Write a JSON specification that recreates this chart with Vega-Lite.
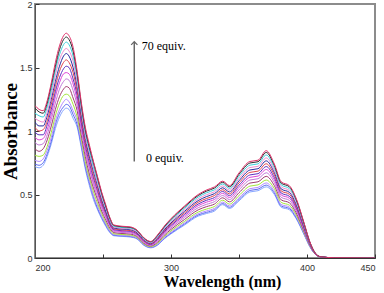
{
"$schema": "https://vega.github.io/schema/vega-lite/v6.json",
"width": 340, "height": 254,
"autosize": {"type": "none"},
"padding": {"left": 35, "top": 4, "right": 9, "bottom": 35},
"config": {"view": {"stroke": "#8c8c8c", "strokeWidth": 2}, "font": "Liberation Sans"},
"datasets": {"spec": [
{"w":200,"k":0,"a":0.72},{"w":203,"k":0,"a":0.71},{"w":206,"k":0,"a":0.73},{"w":209,"k":0,"a":0.80},{"w":212,"k":0,"a":0.90},{"w":215,"k":0,"a":1.02},{"w":218,"k":0,"a":1.11},{"w":221,"k":0,"a":1.165},{"w":223,"k":0,"a":1.18},{"w":225,"k":0,"a":1.17},{"w":228,"k":0,"a":1.10},{"w":231,"k":0,"a":1.03},{"w":234,"k":0,"a":0.87},{"w":237,"k":0,"a":0.70},{"w":240,"k":0,"a":0.57},{"w":243,"k":0,"a":0.46},{"w":246,"k":0,"a":0.38},{"w":249,"k":0,"a":0.31},{"w":252,"k":0,"a":0.25},{"w":255,"k":0,"a":0.20},{"w":258,"k":0,"a":0.175},{"w":264,"k":0,"a":0.17},{"w":270,"k":0,"a":0.165},{"w":275,"k":0,"a":0.15},{"w":280,"k":0,"a":0.10},{"w":285,"k":0,"a":0.08},{"w":290,"k":0,"a":0.10},{"w":295,"k":0,"a":0.15},{"w":300,"k":0,"a":0.19},{"w":310,"k":0,"a":0.26},{"w":320,"k":0,"a":0.33},{"w":326,"k":0,"a":0.35},{"w":332,"k":0,"a":0.37},{"w":338,"k":0,"a":0.42},{"w":343,"k":0,"a":0.39},{"w":350,"k":0,"a":0.45},{"w":358,"k":0,"a":0.52},{"w":364,"k":0,"a":0.53},{"w":370,"k":0,"a":0.56},{"w":376,"k":0,"a":0.50},{"w":381,"k":0,"a":0.40},{"w":387,"k":0,"a":0.38},{"w":392,"k":0,"a":0.31},{"w":398,"k":0,"a":0.18},{"w":402,"k":0,"a":0.09},{"w":406,"k":0,"a":0.03},{"w":410,"k":0,"a":0.008},{"w":420,"k":0,"a":0.001},{"w":450,"k":0,"a":0},
{"w":200,"k":1,"a":0.74},{"w":203,"k":1,"a":0.73},{"w":206,"k":1,"a":0.75},{"w":209,"k":1,"a":0.82},{"w":212,"k":1,"a":0.92},{"w":215,"k":1,"a":1.05},{"w":218,"k":1,"a":1.14},{"w":221,"k":1,"a":1.19},{"w":223,"k":1,"a":1.21},{"w":225,"k":1,"a":1.20},{"w":228,"k":1,"a":1.13},{"w":231,"k":1,"a":1.05},{"w":234,"k":1,"a":0.89},{"w":237,"k":1,"a":0.72},{"w":240,"k":1,"a":0.59},{"w":243,"k":1,"a":0.48},{"w":246,"k":1,"a":0.39},{"w":249,"k":1,"a":0.32},{"w":252,"k":1,"a":0.26},{"w":255,"k":1,"a":0.206},{"w":258,"k":1,"a":0.179},{"w":264,"k":1,"a":0.174},{"w":270,"k":1,"a":0.169},{"w":275,"k":1,"a":0.154},{"w":280,"k":1,"a":0.103},{"w":285,"k":1,"a":0.083},{"w":290,"k":1,"a":0.104},{"w":295,"k":1,"a":0.155},{"w":300,"k":1,"a":0.196},{"w":310,"k":1,"a":0.268},{"w":320,"k":1,"a":0.339},{"w":326,"k":1,"a":0.359},{"w":332,"k":1,"a":0.380},{"w":338,"k":1,"a":0.429},{"w":343,"k":1,"a":0.399},{"w":350,"k":1,"a":0.461},{"w":358,"k":1,"a":0.532},{"w":364,"k":1,"a":0.542},{"w":370,"k":1,"a":0.574},{"w":376,"k":1,"a":0.512},{"w":381,"k":1,"a":0.41},{"w":387,"k":1,"a":0.390},{"w":392,"k":1,"a":0.318},{"w":398,"k":1,"a":0.185},{"w":402,"k":1,"a":0.092},{"w":406,"k":1,"a":0.03},{"w":410,"k":1,"a":0.008},{"w":420,"k":1,"a":0.001},{"w":450,"k":1,"a":0},
{"w":200,"k":2,"a":0.77},{"w":203,"k":2,"a":0.76},{"w":206,"k":2,"a":0.78},{"w":209,"k":2,"a":0.85},{"w":212,"k":2,"a":0.95},{"w":215,"k":2,"a":1.08},{"w":218,"k":2,"a":1.17},{"w":221,"k":2,"a":1.23},{"w":223,"k":2,"a":1.25},{"w":225,"k":2,"a":1.23},{"w":228,"k":2,"a":1.16},{"w":231,"k":2,"a":1.08},{"w":234,"k":2,"a":0.91},{"w":237,"k":2,"a":0.74},{"w":240,"k":2,"a":0.61},{"w":243,"k":2,"a":0.49},{"w":246,"k":2,"a":0.41},{"w":249,"k":2,"a":0.33},{"w":252,"k":2,"a":0.27},{"w":255,"k":2,"a":0.213},{"w":258,"k":2,"a":0.184},{"w":264,"k":2,"a":0.179},{"w":270,"k":2,"a":0.174},{"w":275,"k":2,"a":0.158},{"w":280,"k":2,"a":0.107},{"w":285,"k":2,"a":0.086},{"w":290,"k":2,"a":0.109},{"w":295,"k":2,"a":0.161},{"w":300,"k":2,"a":0.203},{"w":310,"k":2,"a":0.277},{"w":320,"k":2,"a":0.349},{"w":326,"k":2,"a":0.370},{"w":332,"k":2,"a":0.391},{"w":338,"k":2,"a":0.440},{"w":343,"k":2,"a":0.410},{"w":350,"k":2,"a":0.474},{"w":358,"k":2,"a":0.546},{"w":364,"k":2,"a":0.556},{"w":370,"k":2,"a":0.591},{"w":376,"k":2,"a":0.526},{"w":381,"k":2,"a":0.422},{"w":387,"k":2,"a":0.401},{"w":392,"k":2,"a":0.328},{"w":398,"k":2,"a":0.19},{"w":402,"k":2,"a":0.094},{"w":406,"k":2,"a":0.031},{"w":410,"k":2,"a":0.008},{"w":420,"k":2,"a":0.001},{"w":450,"k":2,"a":0},
{"w":200,"k":3,"a":0.81},{"w":203,"k":3,"a":0.80},{"w":206,"k":3,"a":0.81},{"w":209,"k":3,"a":0.88},{"w":212,"k":3,"a":0.99},{"w":215,"k":3,"a":1.12},{"w":218,"k":3,"a":1.22},{"w":221,"k":3,"a":1.28},{"w":223,"k":3,"a":1.29},{"w":225,"k":3,"a":1.28},{"w":228,"k":3,"a":1.21},{"w":231,"k":3,"a":1.11},{"w":234,"k":3,"a":0.94},{"w":237,"k":3,"a":0.76},{"w":240,"k":3,"a":0.63},{"w":243,"k":3,"a":0.52},{"w":246,"k":3,"a":0.43},{"w":249,"k":3,"a":0.35},{"w":252,"k":3,"a":0.28},{"w":255,"k":3,"a":0.223},{"w":258,"k":3,"a":0.191},{"w":264,"k":3,"a":0.185},{"w":270,"k":3,"a":0.180},{"w":275,"k":3,"a":0.163},{"w":280,"k":3,"a":0.111},{"w":285,"k":3,"a":0.090},{"w":290,"k":3,"a":0.115},{"w":295,"k":3,"a":0.169},{"w":300,"k":3,"a":0.213},{"w":310,"k":3,"a":0.289},{"w":320,"k":3,"a":0.362},{"w":326,"k":3,"a":0.385},{"w":332,"k":3,"a":0.406},{"w":338,"k":3,"a":0.455},{"w":343,"k":3,"a":0.424},{"w":350,"k":3,"a":0.492},{"w":358,"k":3,"a":0.566},{"w":364,"k":3,"a":0.576},{"w":370,"k":3,"a":0.614},{"w":376,"k":3,"a":0.546},{"w":381,"k":3,"a":0.438},{"w":387,"k":3,"a":0.416},{"w":392,"k":3,"a":0.340},{"w":398,"k":3,"a":0.197},{"w":402,"k":3,"a":0.098},{"w":406,"k":3,"a":0.032},{"w":410,"k":3,"a":0.008},{"w":420,"k":3,"a":0.001},{"w":450,"k":3,"a":0},
{"w":200,"k":4,"a":0.86},{"w":203,"k":4,"a":0.84},{"w":206,"k":4,"a":0.86},{"w":209,"k":4,"a":0.93},{"w":212,"k":4,"a":1.04},{"w":215,"k":4,"a":1.17},{"w":218,"k":4,"a":1.27},{"w":221,"k":4,"a":1.33},{"w":223,"k":4,"a":1.35},{"w":225,"k":4,"a":1.34},{"w":228,"k":4,"a":1.26},{"w":231,"k":4,"a":1.16},{"w":234,"k":4,"a":0.97},{"w":237,"k":4,"a":0.80},{"w":240,"k":4,"a":0.66},{"w":243,"k":4,"a":0.55},{"w":246,"k":4,"a":0.46},{"w":249,"k":4,"a":0.37},{"w":252,"k":4,"a":0.30},{"w":255,"k":4,"a":0.235},{"w":258,"k":4,"a":0.200},{"w":264,"k":4,"a":0.193},{"w":270,"k":4,"a":0.188},{"w":275,"k":4,"a":0.170},{"w":280,"k":4,"a":0.117},{"w":285,"k":4,"a":0.095},{"w":290,"k":4,"a":0.123},{"w":295,"k":4,"a":0.179},{"w":300,"k":4,"a":0.225},{"w":310,"k":4,"a":0.304},{"w":320,"k":4,"a":0.379},{"w":326,"k":4,"a":0.404},{"w":332,"k":4,"a":0.425},{"w":338,"k":4,"a":0.474},{"w":343,"k":4,"a":0.442},{"w":350,"k":4,"a":0.514},{"w":358,"k":4,"a":0.590},{"w":364,"k":4,"a":0.600},{"w":370,"k":4,"a":0.643},{"w":376,"k":4,"a":0.570},{"w":381,"k":4,"a":0.458},{"w":387,"k":4,"a":0.435},{"w":392,"k":4,"a":0.356},{"w":398,"k":4,"a":0.206},{"w":402,"k":4,"a":0.102},{"w":406,"k":4,"a":0.033},{"w":410,"k":4,"a":0.009},{"w":420,"k":4,"a":0.001},{"w":450,"k":4,"a":0},
{"w":200,"k":5,"a":0.91},{"w":203,"k":5,"a":0.89},{"w":206,"k":5,"a":0.90},{"w":209,"k":5,"a":0.97},{"w":212,"k":5,"a":1.09},{"w":215,"k":5,"a":1.22},{"w":218,"k":5,"a":1.33},{"w":221,"k":5,"a":1.39},{"w":223,"k":5,"a":1.41},{"w":225,"k":5,"a":1.40},{"w":228,"k":5,"a":1.32},{"w":231,"k":5,"a":1.20},{"w":234,"k":5,"a":1.01},{"w":237,"k":5,"a":0.83},{"w":240,"k":5,"a":0.70},{"w":243,"k":5,"a":0.58},{"w":246,"k":5,"a":0.48},{"w":249,"k":5,"a":0.39},{"w":252,"k":5,"a":0.32},{"w":255,"k":5,"a":0.247},{"w":258,"k":5,"a":0.208},{"w":264,"k":5,"a":0.201},{"w":270,"k":5,"a":0.196},{"w":275,"k":5,"a":0.177},{"w":280,"k":5,"a":0.123},{"w":285,"k":5,"a":0.100},{"w":290,"k":5,"a":0.131},{"w":295,"k":5,"a":0.189},{"w":300,"k":5,"a":0.237},{"w":310,"k":5,"a":0.319},{"w":320,"k":5,"a":0.396},{"w":326,"k":5,"a":0.422},{"w":332,"k":5,"a":0.444},{"w":338,"k":5,"a":0.492},{"w":343,"k":5,"a":0.460},{"w":350,"k":5,"a":0.536},{"w":358,"k":5,"a":0.614},{"w":364,"k":5,"a":0.624},{"w":370,"k":5,"a":0.671},{"w":376,"k":5,"a":0.594},{"w":381,"k":5,"a":0.478},{"w":387,"k":5,"a":0.454},{"w":392,"k":5,"a":0.372},{"w":398,"k":5,"a":0.215},{"w":402,"k":5,"a":0.106},{"w":406,"k":5,"a":0.034},{"w":410,"k":5,"a":0.009},{"w":420,"k":5,"a":0.001},{"w":450,"k":5,"a":0},
{"w":200,"k":6,"a":0.95},{"w":203,"k":6,"a":0.93},{"w":206,"k":6,"a":0.94},{"w":209,"k":6,"a":1.01},{"w":212,"k":6,"a":1.13},{"w":215,"k":6,"a":1.27},{"w":218,"k":6,"a":1.38},{"w":221,"k":6,"a":1.45},{"w":223,"k":6,"a":1.46},{"w":225,"k":6,"a":1.45},{"w":228,"k":6,"a":1.37},{"w":231,"k":6,"a":1.24},{"w":234,"k":6,"a":1.04},{"w":237,"k":6,"a":0.86},{"w":240,"k":6,"a":0.72},{"w":243,"k":6,"a":0.60},{"w":246,"k":6,"a":0.51},{"w":249,"k":6,"a":0.41},{"w":252,"k":6,"a":0.33},{"w":255,"k":6,"a":0.258},{"w":258,"k":6,"a":0.216},{"w":264,"k":6,"a":0.208},{"w":270,"k":6,"a":0.203},{"w":275,"k":6,"a":0.184},{"w":280,"k":6,"a":0.129},{"w":285,"k":6,"a":0.104},{"w":290,"k":6,"a":0.138},{"w":295,"k":6,"a":0.198},{"w":300,"k":6,"a":0.248},{"w":310,"k":6,"a":0.332},{"w":320,"k":6,"a":0.412},{"w":326,"k":6,"a":0.439},{"w":332,"k":6,"a":0.461},{"w":338,"k":6,"a":0.509},{"w":343,"k":6,"a":0.476},{"w":350,"k":6,"a":0.556},{"w":358,"k":6,"a":0.635},{"w":364,"k":6,"a":0.645},{"w":370,"k":6,"a":0.697},{"w":376,"k":6,"a":0.615},{"w":381,"k":6,"a":0.496},{"w":387,"k":6,"a":0.471},{"w":392,"k":6,"a":0.387},{"w":398,"k":6,"a":0.223},{"w":402,"k":6,"a":0.109},{"w":406,"k":6,"a":0.035},{"w":410,"k":6,"a":0.009},{"w":420,"k":6,"a":0.001},{"w":450,"k":6,"a":0},
{"w":200,"k":7,"a":0.99},{"w":203,"k":7,"a":0.97},{"w":206,"k":7,"a":0.97},{"w":209,"k":7,"a":1.05},{"w":212,"k":7,"a":1.17},{"w":215,"k":7,"a":1.31},{"w":218,"k":7,"a":1.42},{"w":221,"k":7,"a":1.49},{"w":223,"k":7,"a":1.51},{"w":225,"k":7,"a":1.50},{"w":228,"k":7,"a":1.41},{"w":231,"k":7,"a":1.28},{"w":234,"k":7,"a":1.07},{"w":237,"k":7,"a":0.89},{"w":240,"k":7,"a":0.75},{"w":243,"k":7,"a":0.63},{"w":246,"k":7,"a":0.53},{"w":249,"k":7,"a":0.43},{"w":252,"k":7,"a":0.35},{"w":255,"k":7,"a":0.267},{"w":258,"k":7,"a":0.223},{"w":264,"k":7,"a":0.215},{"w":270,"k":7,"a":0.210},{"w":275,"k":7,"a":0.189},{"w":280,"k":7,"a":0.134},{"w":285,"k":7,"a":0.108},{"w":290,"k":7,"a":0.145},{"w":295,"k":7,"a":0.206},{"w":300,"k":7,"a":0.257},{"w":310,"k":7,"a":0.344},{"w":320,"k":7,"a":0.425},{"w":326,"k":7,"a":0.454},{"w":332,"k":7,"a":0.476},{"w":338,"k":7,"a":0.524},{"w":343,"k":7,"a":0.491},{"w":350,"k":7,"a":0.573},{"w":358,"k":7,"a":0.654},{"w":364,"k":7,"a":0.664},{"w":370,"k":7,"a":0.720},{"w":376,"k":7,"a":0.634},{"w":381,"k":7,"a":0.512},{"w":387,"k":7,"a":0.486},{"w":392,"k":7,"a":0.400},{"w":398,"k":7,"a":0.23},{"w":402,"k":7,"a":0.112},{"w":406,"k":7,"a":0.036},{"w":410,"k":7,"a":0.009},{"w":420,"k":7,"a":0.002},{"w":450,"k":7,"a":0},
{"w":200,"k":8,"a":1.03},{"w":203,"k":8,"a":1.00},{"w":206,"k":8,"a":1.01},{"w":209,"k":8,"a":1.08},{"w":212,"k":8,"a":1.21},{"w":215,"k":8,"a":1.35},{"w":218,"k":8,"a":1.47},{"w":221,"k":8,"a":1.54},{"w":223,"k":8,"a":1.56},{"w":225,"k":8,"a":1.54},{"w":228,"k":8,"a":1.46},{"w":231,"k":8,"a":1.31},{"w":234,"k":8,"a":1.10},{"w":237,"k":8,"a":0.91},{"w":240,"k":8,"a":0.78},{"w":243,"k":8,"a":0.65},{"w":246,"k":8,"a":0.55},{"w":249,"k":8,"a":0.44},{"w":252,"k":8,"a":0.36},{"w":255,"k":8,"a":0.277},{"w":258,"k":8,"a":0.229},{"w":264,"k":8,"a":0.221},{"w":270,"k":8,"a":0.216},{"w":275,"k":8,"a":0.195},{"w":280,"k":8,"a":0.138},{"w":285,"k":8,"a":0.112},{"w":290,"k":8,"a":0.151},{"w":295,"k":8,"a":0.214},{"w":300,"k":8,"a":0.267},{"w":310,"k":8,"a":0.356},{"w":320,"k":8,"a":0.439},{"w":326,"k":8,"a":0.468},{"w":332,"k":8,"a":0.492},{"w":338,"k":8,"a":0.538},{"w":343,"k":8,"a":0.505},{"w":350,"k":8,"a":0.591},{"w":358,"k":8,"a":0.674},{"w":364,"k":8,"a":0.684},{"w":370,"k":8,"a":0.742},{"w":376,"k":8,"a":0.654},{"w":381,"k":8,"a":0.528},{"w":387,"k":8,"a":0.502},{"w":392,"k":8,"a":0.412},{"w":398,"k":8,"a":0.238},{"w":402,"k":8,"a":0.116},{"w":406,"k":8,"a":0.036},{"w":410,"k":8,"a":0.009},{"w":420,"k":8,"a":0.002},{"w":450,"k":8,"a":0},
{"w":200,"k":9,"a":1.07},{"w":203,"k":9,"a":1.04},{"w":206,"k":9,"a":1.04},{"w":209,"k":9,"a":1.12},{"w":212,"k":9,"a":1.25},{"w":215,"k":9,"a":1.39},{"w":218,"k":9,"a":1.51},{"w":221,"k":9,"a":1.59},{"w":223,"k":9,"a":1.61},{"w":225,"k":9,"a":1.59},{"w":228,"k":9,"a":1.50},{"w":231,"k":9,"a":1.35},{"w":234,"k":9,"a":1.13},{"w":237,"k":9,"a":0.94},{"w":240,"k":9,"a":0.80},{"w":243,"k":9,"a":0.68},{"w":246,"k":9,"a":0.57},{"w":249,"k":9,"a":0.46},{"w":252,"k":9,"a":0.37},{"w":255,"k":9,"a":0.286},{"w":258,"k":9,"a":0.236},{"w":264,"k":9,"a":0.228},{"w":270,"k":9,"a":0.223},{"w":275,"k":9,"a":0.200},{"w":280,"k":9,"a":0.143},{"w":285,"k":9,"a":0.116},{"w":290,"k":9,"a":0.158},{"w":295,"k":9,"a":0.222},{"w":300,"k":9,"a":0.276},{"w":310,"k":9,"a":0.368},{"w":320,"k":9,"a":0.452},{"w":326,"k":9,"a":0.483},{"w":332,"k":9,"a":0.507},{"w":338,"k":9,"a":0.553},{"w":343,"k":9,"a":0.520},{"w":350,"k":9,"a":0.608},{"w":358,"k":9,"a":0.693},{"w":364,"k":9,"a":0.703},{"w":370,"k":9,"a":0.765},{"w":376,"k":9,"a":0.673},{"w":381,"k":9,"a":0.544},{"w":387,"k":9,"a":0.517},{"w":392,"k":9,"a":0.425},{"w":398,"k":9,"a":0.245},{"w":402,"k":9,"a":0.119},{"w":406,"k":9,"a":0.037},{"w":410,"k":9,"a":0.009},{"w":420,"k":9,"a":0.002},{"w":450,"k":9,"a":0},
{"w":200,"k":10,"a":1.10},{"w":203,"k":10,"a":1.08},{"w":206,"k":10,"a":1.07},{"w":209,"k":10,"a":1.15},{"w":212,"k":10,"a":1.28},{"w":215,"k":10,"a":1.44},{"w":218,"k":10,"a":1.56},{"w":221,"k":10,"a":1.63},{"w":223,"k":10,"a":1.65},{"w":225,"k":10,"a":1.63},{"w":228,"k":10,"a":1.55},{"w":231,"k":10,"a":1.38},{"w":234,"k":10,"a":1.16},{"w":237,"k":10,"a":0.96},{"w":240,"k":10,"a":0.83},{"w":243,"k":10,"a":0.70},{"w":246,"k":10,"a":0.59},{"w":249,"k":10,"a":0.48},{"w":252,"k":10,"a":0.39},{"w":255,"k":10,"a":0.296},{"w":258,"k":10,"a":0.243},{"w":264,"k":10,"a":0.234},{"w":270,"k":10,"a":0.229},{"w":275,"k":10,"a":0.206},{"w":280,"k":10,"a":0.148},{"w":285,"k":10,"a":0.120},{"w":290,"k":10,"a":0.164},{"w":295,"k":10,"a":0.230},{"w":300,"k":10,"a":0.286},{"w":310,"k":10,"a":0.380},{"w":320,"k":10,"a":0.466},{"w":326,"k":10,"a":0.498},{"w":332,"k":10,"a":0.522},{"w":338,"k":10,"a":0.568},{"w":343,"k":10,"a":0.534},{"w":350,"k":10,"a":0.626},{"w":358,"k":10,"a":0.712},{"w":364,"k":10,"a":0.722},{"w":370,"k":10,"a":0.788},{"w":376,"k":10,"a":0.692},{"w":381,"k":10,"a":0.56},{"w":387,"k":10,"a":0.532},{"w":392,"k":10,"a":0.438},{"w":398,"k":10,"a":0.252},{"w":402,"k":10,"a":0.122},{"w":406,"k":10,"a":0.038},{"w":410,"k":10,"a":0.01},{"w":420,"k":10,"a":0.002},{"w":450,"k":10,"a":0},
{"w":200,"k":11,"a":1.14},{"w":203,"k":11,"a":1.12},{"w":206,"k":11,"a":1.11},{"w":209,"k":11,"a":1.19},{"w":212,"k":11,"a":1.32},{"w":215,"k":11,"a":1.48},{"w":218,"k":11,"a":1.60},{"w":221,"k":11,"a":1.68},{"w":223,"k":11,"a":1.70},{"w":225,"k":11,"a":1.68},{"w":228,"k":11,"a":1.59},{"w":231,"k":11,"a":1.42},{"w":234,"k":11,"a":1.19},{"w":237,"k":11,"a":0.99},{"w":240,"k":11,"a":0.85},{"w":243,"k":11,"a":0.72},{"w":246,"k":11,"a":0.61},{"w":249,"k":11,"a":0.50},{"w":252,"k":11,"a":0.40},{"w":255,"k":11,"a":0.306},{"w":258,"k":11,"a":0.250},{"w":264,"k":11,"a":0.240},{"w":270,"k":11,"a":0.235},{"w":275,"k":11,"a":0.212},{"w":280,"k":11,"a":0.153},{"w":285,"k":11,"a":0.124},{"w":290,"k":11,"a":0.170},{"w":295,"k":11,"a":0.238},{"w":300,"k":11,"a":0.296},{"w":310,"k":11,"a":0.392},{"w":320,"k":11,"a":0.480},{"w":326,"k":11,"a":0.513},{"w":332,"k":11,"a":0.537},{"w":338,"k":11,"a":0.583},{"w":343,"k":11,"a":0.548},{"w":350,"k":11,"a":0.644},{"w":358,"k":11,"a":0.731},{"w":364,"k":11,"a":0.741},{"w":370,"k":11,"a":0.811},{"w":376,"k":11,"a":0.711},{"w":381,"k":11,"a":0.576},{"w":387,"k":11,"a":0.547},{"w":392,"k":11,"a":0.451},{"w":398,"k":11,"a":0.259},{"w":402,"k":11,"a":0.125},{"w":406,"k":11,"a":0.039},{"w":410,"k":11,"a":0.01},{"w":420,"k":11,"a":0.002},{"w":450,"k":11,"a":0},
{"w":200,"k":12,"a":1.18},{"w":203,"k":12,"a":1.15},{"w":206,"k":12,"a":1.14},{"w":209,"k":12,"a":1.22},{"w":212,"k":12,"a":1.36},{"w":215,"k":12,"a":1.51},{"w":218,"k":12,"a":1.64},{"w":221,"k":12,"a":1.72},{"w":223,"k":12,"a":1.74},{"w":225,"k":12,"a":1.72},{"w":228,"k":12,"a":1.63},{"w":231,"k":12,"a":1.45},{"w":234,"k":12,"a":1.21},{"w":237,"k":12,"a":1.01},{"w":240,"k":12,"a":0.87},{"w":243,"k":12,"a":0.75},{"w":246,"k":12,"a":0.63},{"w":249,"k":12,"a":0.51},{"w":252,"k":12,"a":0.41},{"w":255,"k":12,"a":0.314},{"w":258,"k":12,"a":0.256},{"w":264,"k":12,"a":0.246},{"w":270,"k":12,"a":0.241},{"w":275,"k":12,"a":0.217},{"w":280,"k":12,"a":0.157},{"w":285,"k":12,"a":0.128},{"w":290,"k":12,"a":0.176},{"w":295,"k":12,"a":0.245},{"w":300,"k":12,"a":0.304},{"w":310,"k":12,"a":0.403},{"w":320,"k":12,"a":0.492},{"w":326,"k":12,"a":0.526},{"w":332,"k":12,"a":0.551},{"w":338,"k":12,"a":0.596},{"w":343,"k":12,"a":0.561},{"w":350,"k":12,"a":0.659},{"w":358,"k":12,"a":0.748},{"w":364,"k":12,"a":0.758},{"w":370,"k":12,"a":0.831},{"w":376,"k":12,"a":0.728},{"w":381,"k":12,"a":0.59},{"w":387,"k":12,"a":0.561},{"w":392,"k":12,"a":0.462},{"w":398,"k":12,"a":0.266},{"w":402,"k":12,"a":0.128},{"w":406,"k":12,"a":0.04},{"w":410,"k":12,"a":0.01},{"w":420,"k":12,"a":0.002},{"w":450,"k":12,"a":0},
{"w":200,"k":13,"a":1.20},{"w":203,"k":13,"a":1.17},{"w":206,"k":13,"a":1.16},{"w":209,"k":13,"a":1.24},{"w":212,"k":13,"a":1.38},{"w":215,"k":13,"a":1.54},{"w":218,"k":13,"a":1.67},{"w":221,"k":13,"a":1.75},{"w":223,"k":13,"a":1.77},{"w":225,"k":13,"a":1.75},{"w":228,"k":13,"a":1.66},{"w":231,"k":13,"a":1.47},{"w":234,"k":13,"a":1.23},{"w":237,"k":13,"a":1.03},{"w":240,"k":13,"a":0.89},{"w":243,"k":13,"a":0.76},{"w":246,"k":13,"a":0.64},{"w":249,"k":13,"a":0.52},{"w":252,"k":13,"a":0.42},{"w":255,"k":13,"a":0.32},{"w":258,"k":13,"a":0.26},{"w":264,"k":13,"a":0.25},{"w":270,"k":13,"a":0.245},{"w":275,"k":13,"a":0.22},{"w":280,"k":13,"a":0.16},{"w":285,"k":13,"a":0.13},{"w":290,"k":13,"a":0.18},{"w":295,"k":13,"a":0.25},{"w":300,"k":13,"a":0.31},{"w":310,"k":13,"a":0.41},{"w":320,"k":13,"a":0.50},{"w":326,"k":13,"a":0.535},{"w":332,"k":13,"a":0.56},{"w":338,"k":13,"a":0.605},{"w":343,"k":13,"a":0.57},{"w":350,"k":13,"a":0.67},{"w":358,"k":13,"a":0.76},{"w":364,"k":13,"a":0.77},{"w":370,"k":13,"a":0.845},{"w":376,"k":13,"a":0.74},{"w":381,"k":13,"a":0.60},{"w":387,"k":13,"a":0.57},{"w":392,"k":13,"a":0.47},{"w":398,"k":13,"a":0.27},{"w":402,"k":13,"a":0.13},{"w":406,"k":13,"a":0.04},{"w":410,"k":13,"a":0.01},{"w":420,"k":13,"a":0.002},{"w":450,"k":13,"a":0}
]},
"layer": [
{
"data": {"name": "spec"},
"mark": {"type": "line", "strokeWidth": 1, "interpolate": "monotone", "clip": true},
"encoding": {
"x": {"field": "w", "type": "quantitative", "scale": {"domain": [200, 450], "nice": false, "zero": false},
"axis": {"values": [200, 250, 300, 350, 400, 450], "format": "d", "labelExpr": "datum.value == 250 || datum.value == 350 ? '' : datum.label", "title": "Wavelength (nm)", "titleFont": "Liberation Serif", "titleFontSize": 16, "titleFontWeight": "bold", "titleColor": "#000", "titleX": 187, "titleY": 28, "titleBaseline": "alphabetic", "titleAlign": "center", "labelFontSize": 9, "labelColor": "#333", "labelPadding": 9, "tickSize": -4, "tickColor": "#333", "domainColor": "#333", "grid": false}},
"y": {"field": "a", "type": "quantitative", "scale": {"domain": [0, 2], "nice": false},
"axis": {"values": [0, 0.25, 0.5, 0.75, 1, 1.25, 1.5, 1.75, 2], "format": "~g", "labelExpr": "datum.value % 0.5 == 0 ? datum.label : ''", "title": "Absorbance", "titleFont": "Liberation Serif", "titleFontSize": 19, "titleFontWeight": "bold", "titleColor": "#000", "titleAngle": -90, "titleX": -19, "titleY": 127, "titleBaseline": "alphabetic", "titleAlign": "center", "labelFontSize": 9, "labelColor": "#333", "labelPadding": 7, "tickSize": -4, "tickColor": "#333", "domainColor": "#555", "grid": false}},
"color": {"field": "k", "type": "nominal", "legend": null,
"scale": {"domain": [0,1,2,3,4,5,6,7,8,9,10,11,12,13], "range": ["#86a6ff","#5c6cf0","#b48cff","#a4e63c","#a03a70","#c07ad8","#e044d8","#5a2fc0","#e04450","#2a2aa0","#f08cd0","#3cd0dc","#2c2c2c","#e0306a"]}}
}
},
{
"data": {"values": [{}]},
"mark": {"type": "rule", "stroke": "#666", "strokeWidth": 1.5},
"encoding": {"x": {"datum": 273}, "y": {"datum": 0.76}, "y2": {"datum": 1.70}}
},
{
"data": {"values": [{}]},
"mark": {"type": "point", "shape": "M-1,1L0,0L1,1", "size": 40, "filled": false, "stroke": "#666", "strokeWidth": 1.2, "opacity": 1},
"encoding": {"x": {"datum": 273}, "y": {"datum": 1.703}}
},
{
"data": {"values": [{}]},
"mark": {"type": "text", "font": "Liberation Serif", "fontSize": 12, "align": "left", "baseline": "middle", "color": "#000"},
"encoding": {"x": {"datum": 278.5}, "y": {"datum": 1.67}, "text": {"value": "70 equiv."}}
},
{
"data": {"values": [{}]},
"mark": {"type": "text", "font": "Liberation Serif", "fontSize": 12, "align": "left", "baseline": "middle", "color": "#000"},
"encoding": {"x": {"datum": 281.6}, "y": {"datum": 0.79}, "text": {"value": "0 equiv."}}
}
]
}
